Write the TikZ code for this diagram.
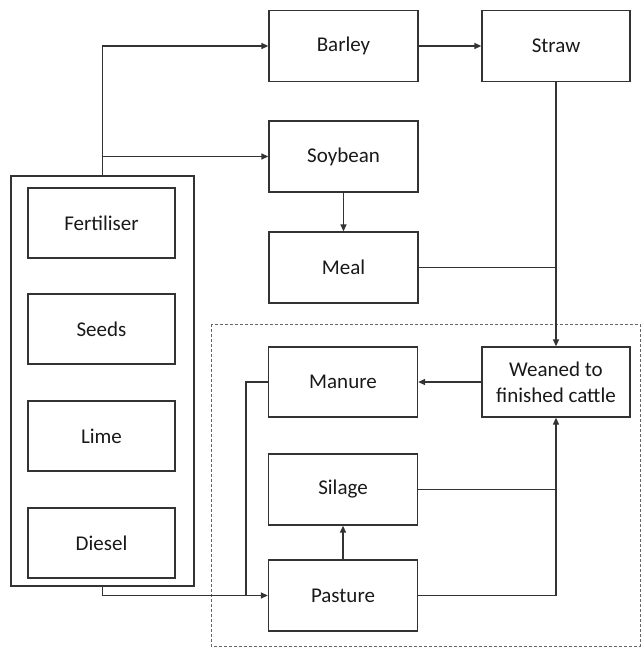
\documentclass[tikz,border=0pt]{standalone}
\usepackage{fontspec}
\setmainfont{Carlito}
\usetikzlibrary{arrows.meta}
\begin{document}
\begin{tikzpicture}[x=1pt,y=-1pt,
  box/.style={draw=black!80,line width=1.3pt,minimum width=149pt,minimum height=71pt,inner sep=0pt,align=center,font=\fontsize{21}{26}\selectfont,text=black!90},
  ibox/.style={box,minimum width=147pt,minimum height=70pt},
  arr/.style={draw=black!80,line width=1.3pt,-{Triangle[length=7pt,width=6pt]}},
  ln/.style={draw=black!80,line width=1.3pt}]
\useasboundingbox (0,0) rectangle (643,650);
% dashed region
\draw[black!60,line width=1pt,dash pattern=on 3pt off 2pt] (211,324) rectangle (640,646);
% nodes
\node[box] (barley) at (343.5,46) {Barley};
\node[box,minimum width=148pt] (straw) at (556,46) {Straw};
\node[box] (soy) at (343.5,156.5) {Soybean};
\node[box] (meal) at (343.5,267.5) {Meal};
\node[box,minimum width=148pt,minimum height=70pt] (weaned) at (556,382) {Weaned to\\finished cattle};
\node[box,minimum height=70pt] (manure) at (343,382) {Manure};
\node[box] (silage) at (343,489.5) {Silage};
\node[box] (pasture) at (343,595.5) {Pasture};
\node[draw=black!80,line width=1.3pt,minimum width=183pt,minimum height=410pt,inner sep=0pt] (outer) at (102.5,381) {};
\node[ibox] (fert) at (101.5,223) {Fertiliser};
\node[ibox] (seeds) at (101.5,329) {Seeds};
\node[ibox] (lime) at (101.5,436) {Lime};
\node[ibox] (diesel) at (101.5,543) {Diesel};
\coordinate (j1) at (246,595.5);
% connectors
\draw[arr] (outer.north) |- (barley.west);
\draw[arr] (outer.north) |- (soy.west);
\draw[arr] (barley.east) -- (straw.west);
\draw[arr] (soy.south) -- (meal.north);
\draw[arr] (straw.south) -- (weaned.north);
\draw[ln] (meal.east) -- (meal.east -| straw.south);
\draw[arr] (weaned.west) -- (manure.east);
\draw[ln] (silage.east) -- (silage.east -| weaned.south);
\draw[arr] (pasture.east) -| (weaned.south);
\draw[arr] (pasture.north) -- (silage.south);
\draw[ln] (manure.west) -| (j1);
\draw[arr] (outer.south) |- (pasture.west);
\end{tikzpicture}
\end{document}
